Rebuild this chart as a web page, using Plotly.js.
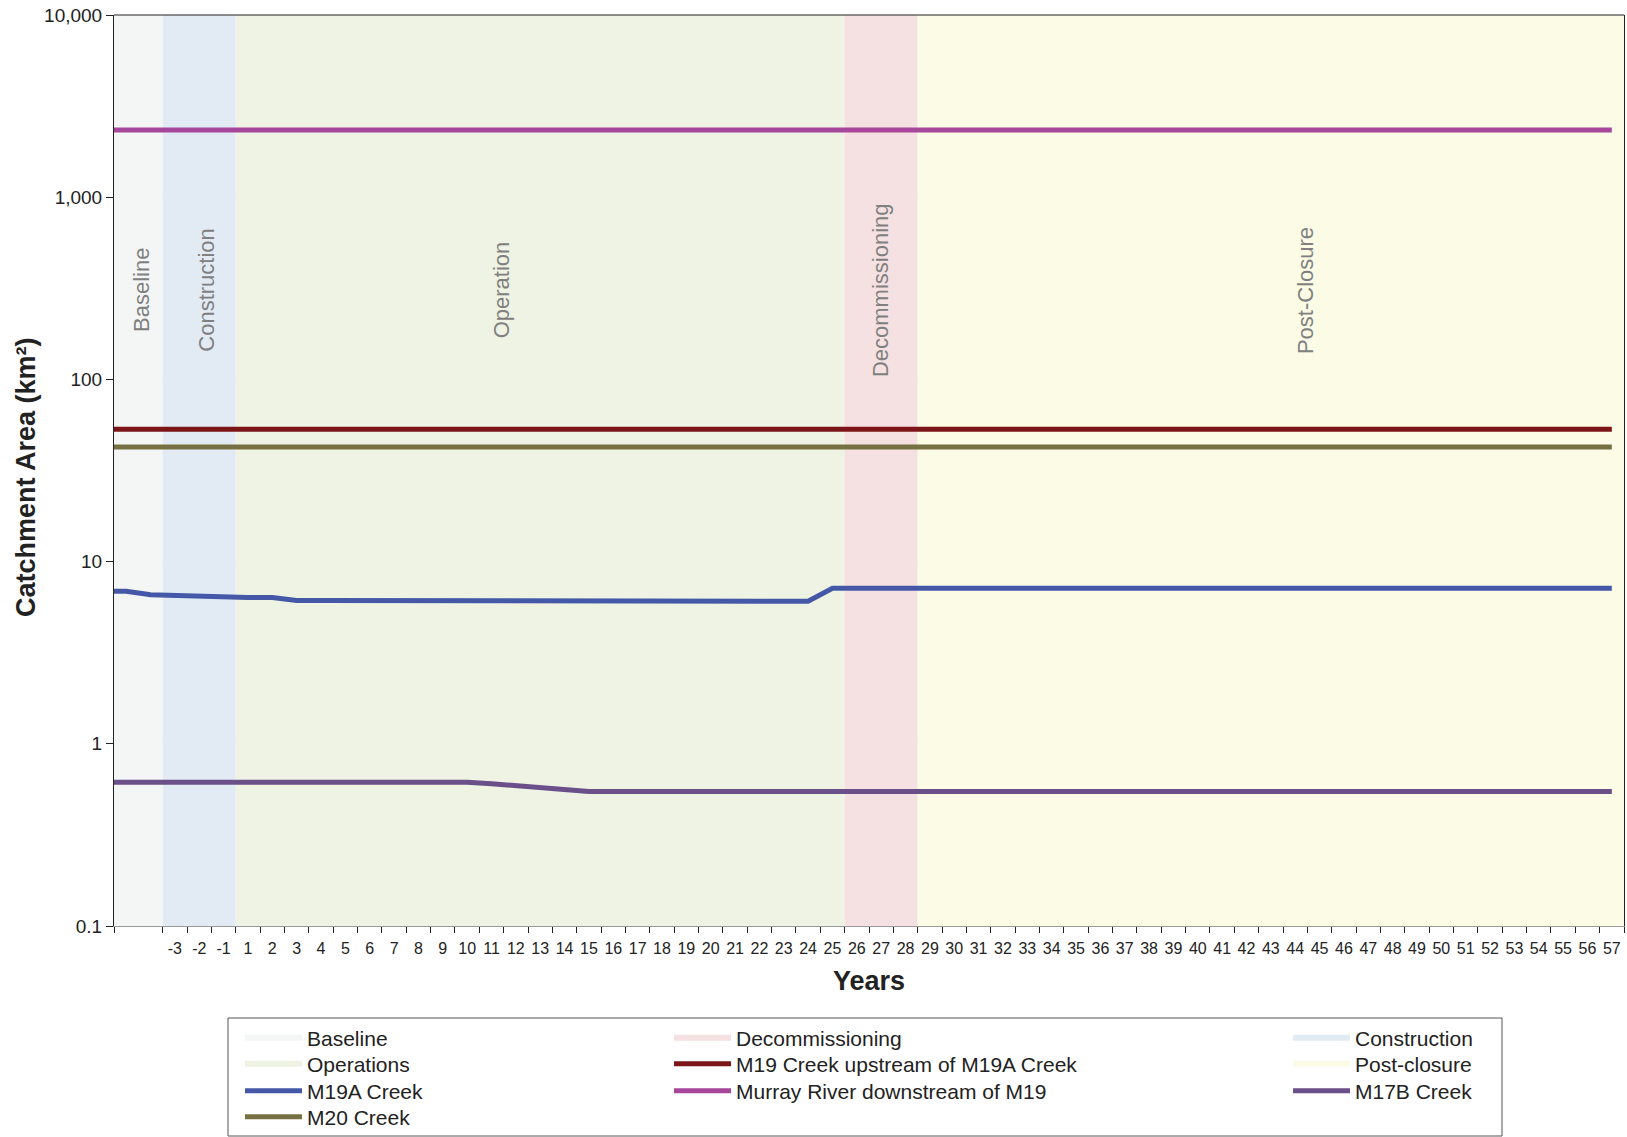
<!DOCTYPE html>
<html>
<head>
<meta charset="utf-8">
<script src="https://cdn.plot.ly/plotly-3.0.1.min.js"></script>
<style>
  html, body { margin: 0; padding: 0; background: #ffffff; }
  #chart { width: 1627px; height: 1137px; }
</style>
</head>
<body>
<div id="chart"></div>
<script>
// ---------------- DATA ----------------
// x-axis tick labels (years); the baseline period has two unlabelled slots before them
const yearLabels = ['-3','-2','-1','1','2','3','4','5','6','7','8','9','10','11','12','13','14','15',
  '16','17','18','19','20','21','22','23','24','25','26','27','28','29','30','31','32','33','34','35',
  '36','37','38','39','40','41','42','43','44','45','46','47','48','49','50','51','52','53','54','55','56','57'];

// sample points: baseline start, two baseline years, then every labelled year
const samples = ['B0','B1','B2'].concat(yearLabels);

// phases (legend names), number of year-slots each spans, band colours, in-chart labels
const phaseNames  = ['Baseline','Construction','Operations','Decommissioning','Post-closure'];
const phaseSlots  = [2, 3, 25, 3, 29];
const phaseColors = ['#f4f6f5','#e2eaf4','#eef3e3','#f5e1e1','#fbfbe6'];
const phaseLabels = ['Baseline','Construction','Operation','Decommissioning','Post-Closure'];

// catchment areas (km²), one value per sample
const m19a = [6.87, 6.87, 6.58, 6.50, 6.43, 6.36, 6.36, 6.36,
  6.12, 6.12, 6.12, 6.12, 6.12, 6.12, 6.12, 6.12,
  6.10,
  6.06, 6.06, 6.06, 6.06, 6.06, 6.06, 6.06, 6.06, 6.06, 6.06, 6.06, 6.06, 6.06,
  7.13, 7.13, 7.13, 7.13, 7.13, 7.13, 7.13, 7.13, 7.13, 7.13, 7.13,
  7.13, 7.13, 7.13, 7.13, 7.13, 7.13, 7.13, 7.13, 7.13, 7.13, 7.13,
  7.13, 7.13, 7.13, 7.13, 7.13, 7.13, 7.13, 7.13, 7.13, 7.13, 7.13];

const m17b = [0.615, 0.615, 0.615, 0.615, 0.615, 0.615, 0.615, 0.615,
  0.615, 0.615, 0.615, 0.615, 0.615, 0.615, 0.615, 0.615,
  0.603, 0.590, 0.575, 0.560,
  0.548, 0.548, 0.548, 0.548, 0.548, 0.548, 0.548, 0.548, 0.548, 0.548, 0.548,
  0.548, 0.548, 0.548, 0.548, 0.548, 0.548, 0.548, 0.548, 0.548, 0.548, 0.548,
  0.548, 0.548, 0.548, 0.548, 0.548, 0.548, 0.548, 0.548, 0.548, 0.548, 0.548,
  0.548, 0.548, 0.548, 0.548, 0.548, 0.548, 0.548, 0.548, 0.548, 0.548];

const m19Upstream = [53.2, 53.2, 53.2, 53.2, 53.2, 53.2, 53.2, 53.2, 53.2, 53.2, 53.2,
  53.2, 53.2, 53.2, 53.2, 53.2, 53.2, 53.2, 53.2, 53.2, 53.2, 53.2,
  53.2, 53.2, 53.2, 53.2, 53.2, 53.2, 53.2, 53.2, 53.2, 53.2, 53.2,
  53.2, 53.2, 53.2, 53.2, 53.2, 53.2, 53.2, 53.2, 53.2, 53.2, 53.2,
  53.2, 53.2, 53.2, 53.2, 53.2, 53.2, 53.2, 53.2, 53.2, 53.2, 53.2,
  53.2, 53.2, 53.2, 53.2, 53.2, 53.2, 53.2, 53.2];

const murray = [2340, 2340, 2340, 2340, 2340, 2340, 2340, 2340, 2340, 2340, 2340,
  2340, 2340, 2340, 2340, 2340, 2340, 2340, 2340, 2340, 2340, 2340,
  2340, 2340, 2340, 2340, 2340, 2340, 2340, 2340, 2340, 2340, 2340,
  2340, 2340, 2340, 2340, 2340, 2340, 2340, 2340, 2340, 2340, 2340,
  2340, 2340, 2340, 2340, 2340, 2340, 2340, 2340, 2340, 2340, 2340,
  2340, 2340, 2340, 2340, 2340, 2340, 2340, 2340];

const m20 = [42.6, 42.6, 42.6, 42.6, 42.6, 42.6, 42.6, 42.6, 42.6, 42.6, 42.6,
  42.6, 42.6, 42.6, 42.6, 42.6, 42.6, 42.6, 42.6, 42.6, 42.6, 42.6,
  42.6, 42.6, 42.6, 42.6, 42.6, 42.6, 42.6, 42.6, 42.6, 42.6, 42.6,
  42.6, 42.6, 42.6, 42.6, 42.6, 42.6, 42.6, 42.6, 42.6, 42.6, 42.6,
  42.6, 42.6, 42.6, 42.6, 42.6, 42.6, 42.6, 42.6, 42.6, 42.6, 42.6,
  42.6, 42.6, 42.6, 42.6, 42.6, 42.6, 42.6, 42.6];

const yTickVals = [0.1, 1, 10, 100, 1000, 10000];
const yTickText = ['0.1', '1', '10', '100', '1,000', '10,000'];
const yTitle = 'Catchment Area (km²)';
const xTitle = 'Years';

// ---------------- BUILD ----------------
const FONT = 'Liberation Sans, Arial, sans-serif';
const baseSlots = phaseSlots[0];
const totalSlots = phaseSlots.reduce((a, b) => a + b, 0);

// position of each sample on the slot scale (baseline start sits on the axis)
const sampleX = samples.map((s, i) => (i === 0 ? 0 : i - 0.5));
const tickCenters = yearLabels.map((_, i) => baseSlots + i + 0.5);
const boundaries = [0];
for (let i = 0; i <= yearLabels.length; i++) boundaries.push(baseSlots + i);

// phase band edges
const edges = [0];
phaseSlots.forEach(n => edges.push(edges[edges.length - 1] + n));

// legend grid placement (column, row) for each entry
const legendCell = {
  'Baseline': [0, 0], 'Operations': [0, 1], 'M19A Creek': [0, 2], 'M20 Creek': [0, 3],
  'Decommissioning': [1, 0], 'M19 Creek upstream of M19A Creek': [1, 1],
  'Murray River downstream of M19': [1, 2],
  'Construction': [2, 0], 'Post-closure': [2, 1], 'M17B Creek': [2, 2]
};
const colLeft = [240, 669, 1288];
const rowMid = [1038, 1064, 1091, 1117];

const traces = [];
phaseNames.forEach((name, i) => {
  const a = edges[i], b = edges[i + 1];
  traces.push({
    type: 'scatter', mode: 'none', name: name,
    x: [a, b, b, a, a], y: [0.1, 0.1, 10000, 10000, 0.1],
    fill: 'toself', fillcolor: phaseColors[i], hoverinfo: 'skip'
  });
});

function lineTrace(name, vals, color) {
  return { type: 'scatter', mode: 'lines', name: name, x: sampleX, y: vals,
    line: { color: color, width: 5 } };
}
traces.push(lineTrace('M19A Creek', m19a, '#4558a8'));
traces.push(lineTrace('M19 Creek upstream of M19A Creek', m19Upstream, '#7b1518'));
traces.push(lineTrace('Murray River downstream of M19', murray, '#a6479b'));
traces.push(lineTrace('M20 Creek', m20, '#767043'));
traces.push(lineTrace('M17B Creek', m17b, '#6a4f88'));

const labelX = [1.1, 3.8, 15.9, 31.45, 48.9];
const annotations = phaseLabels.map((t, i) => ({
  text: t, x: labelX[i], xref: 'x', y: 0.698, yref: 'paper',
  xanchor: 'center', yanchor: 'middle',
  showarrow: false, textangle: -90,
  font: { family: FONT, size: 22, color: '#808080' }
}));
// y-axis title (placed as a rotated label left of the tick labels)
annotations.push({
  text: yTitle, xref: 'paper', x: (26 - 114) / 1510, yref: 'paper', y: (926 - 477) / 911,
  xanchor: 'center', yanchor: 'middle', showarrow: false, textangle: -90,
  font: { family: FONT, size: 27, weight: 'bold', color: '#222222' }
});

const layout = {
  width: 1627, height: 1137,
  margin: { l: 114, r: 3, t: 15, b: 211, autoexpand: false },
  paper_bgcolor: '#ffffff', plot_bgcolor: '#ffffff',
  font: { family: FONT, color: '#222222' },
  showlegend: true,
  xaxis: {
    type: 'linear', range: [0, totalSlots], showgrid: false, zeroline: false,
    tickmode: 'array', tickvals: tickCenters, ticktext: yearLabels,
    ticks: 'outside', ticklen: 8, tickcolor: 'rgba(0,0,0,0)',
    tickfont: { family: FONT, size: 16, color: '#222222' },
    minor: { tickmode: 'array', tickvals: boundaries, ticks: 'outside', ticklen: 6,
      tickwidth: 1, tickcolor: '#222222', showgrid: false },
    showline: true, linecolor: '#999999', linewidth: 1,
    title: { text: xTitle, standoff: 14,
      font: { family: FONT, size: 27, weight: 'bold', color: '#222222' } },
    fixedrange: true
  },
  yaxis: {
    type: 'log', range: [-1, 4], tickmode: 'array', tickvals: yTickVals, ticktext: yTickText,
    ticks: 'outside', ticklen: 7, tickcolor: '#222222',
    tickfont: { family: FONT, size: 19, color: '#222222' },
    showgrid: true, gridcolor: '#d9d9d9', gridwidth: 1, zeroline: false,
    showline: true, linecolor: '#222222', linewidth: 1, mirror: true,
    fixedrange: true
  },
  annotations: annotations,
  shapes: [
    { type: 'line', xref: 'paper', yref: 'paper', x0: 0, x1: 1, y0: 1, y1: 1,
      line: { color: '#222222', width: 1 } },
    { type: 'rect', xref: 'paper', yref: 'paper',
      x0: (228 - 114) / 1510, x1: (1502 - 114) / 1510,
      y0: (926 - 1018) / 911, y1: (926 - 1136) / 911,
      line: { color: '#555555', width: 1 }, fillcolor: 'rgba(0,0,0,0)' }
  ],
  hovermode: false
};

// one legend per entry so every cell sits on the reference grid
traces.forEach((t, i) => {
  const id = i === 0 ? 'legend' : 'legend' + (i + 1);
  t.legend = id;
  const cell = legendCell[t.name];
  layout[id] = {
    xref: 'container', yref: 'container', xanchor: 'left', yanchor: 'middle',
    x: colLeft[cell[0]] / 1627, y: 1 - rowMid[cell[1]] / 1137,
    bgcolor: 'rgba(0,0,0,0)', borderwidth: 0, itemwidth: 57,
    font: { family: FONT, size: 21, color: '#222222' },
    itemclick: false, itemdoubleclick: false
  };
});

Plotly.newPlot('chart', traces, layout, { displayModeBar: false, staticPlot: true });
</script>
</body>
</html>
